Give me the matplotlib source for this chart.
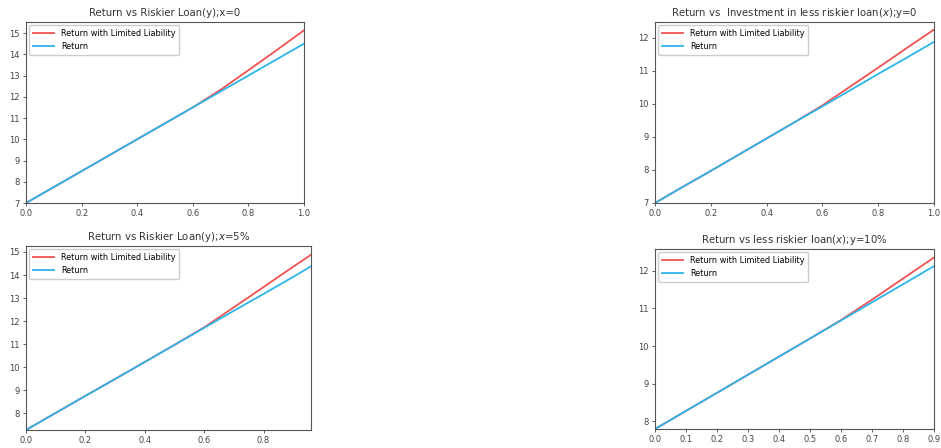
import matplotlib.pyplot as plt

red = '#f05252'
blue = '#2cb5ea'

# top left: return vs riskier loan (y), x=0
y_tl = [0, 0.1, 0.2, 0.3, 0.4, 0.5, 0.6, 0.7, 0.8, 0.9, 1.0]
ll_tl = [7.0, 7.75, 8.5, 9.25, 10.0, 10.75, 11.5, 12.33, 13.25, 14.18, 15.13]
ret_tl = [7.0, 7.75, 8.5, 9.25, 10.0, 10.75, 11.5, 12.25, 13.0, 13.75, 14.5]

# top right: return vs less riskier loan (x), y=0
x_tr = [0, 0.1, 0.2, 0.3, 0.4, 0.5, 0.6, 0.7, 0.8, 0.9, 1.0]
ll_tr = [7.0, 7.49, 7.97, 8.46, 8.95, 9.44, 9.95, 10.52, 11.09, 11.67, 12.24]
ret_tr = [7.0, 7.49, 7.97, 8.46, 8.95, 9.44, 9.92, 10.41, 10.90, 11.38, 11.87]

# bottom left: return vs riskier loan (y), x=5%
y_bl = [0, 0.1, 0.2, 0.3, 0.4, 0.5, 0.6, 0.7, 0.8, 0.9, 0.96]
ll_bl = [7.28, 8.02, 8.76, 9.49, 10.23, 10.97, 11.73, 12.6, 13.48, 14.36, 14.88]
ret_bl = [7.28, 8.02, 8.76, 9.49, 10.23, 10.97, 11.71, 12.45, 13.18, 13.92, 14.38]

# bottom right: return vs less riskier loan (x), y=10%
x_br = [0, 0.1, 0.2, 0.3, 0.4, 0.5, 0.6, 0.7, 0.8, 0.9]
ll_br = [7.8, 8.28, 8.76, 9.24, 9.72, 10.2, 10.69, 11.23, 11.79, 12.35]
ret_br = [7.8, 8.28, 8.76, 9.24, 9.72, 10.2, 10.68, 11.16, 11.64, 12.12]

W, H = 941, 448
fig = plt.figure(figsize=(W / 100, H / 100), dpi=100)


def box(l, r, t, b):
    return [l / W, 1 - b / H, (r - l) / W, (b - t) / H]


panels = [
    (box(26, 304, 22, 203), y_tl, ll_tl, ret_tl, 'Return vs Riskier Loan(y);x=0', (0, 1.0), (7, 15.52)),
    (box(655, 934, 22, 203), x_tr, ll_tr, ret_tr,
     'Return vs  Investment in less riskier loan($x$);y=0', (0, 1.0), (7, 12.47)),
    (box(26, 311, 246, 430), y_bl, ll_bl, ret_bl, 'Return vs Riskier Loan(y);$x$=5%', (0, 0.96), (7.28, 15.26)),
    (box(655, 934, 249, 429), x_br, ll_br, ret_br,
     'Return vs less riskier loan($x$);y=10%', (0, 0.9), (7.8, 12.575)),
]

for pos, xs, ll, ret, title, xl, yl in panels:
    ax = fig.add_axes(pos)
    ax.plot(xs, ll, color=red, lw=1.3, label='Return with Limited Liability')
    ax.plot(xs, ret, color=blue, lw=1.3, label='Return')
    ax.set_xlim(*xl)
    ax.set_ylim(*yl)
    ax.set_title(title, fontsize=7.3, color='#333333', pad=4)
    ax.tick_params(labelsize=6, colors='#444444', length=2.5, width=0.6, pad=2)
    for s in ax.spines.values():
        s.set_color('#555555')
        s.set_linewidth(0.8)
    ax.legend(loc='upper left', fontsize=5.9, framealpha=1, borderpad=0.5,
              handlelength=2.6, labelspacing=0.45, borderaxespad=0.35)

fig.savefig('out.png', dpi=100)
